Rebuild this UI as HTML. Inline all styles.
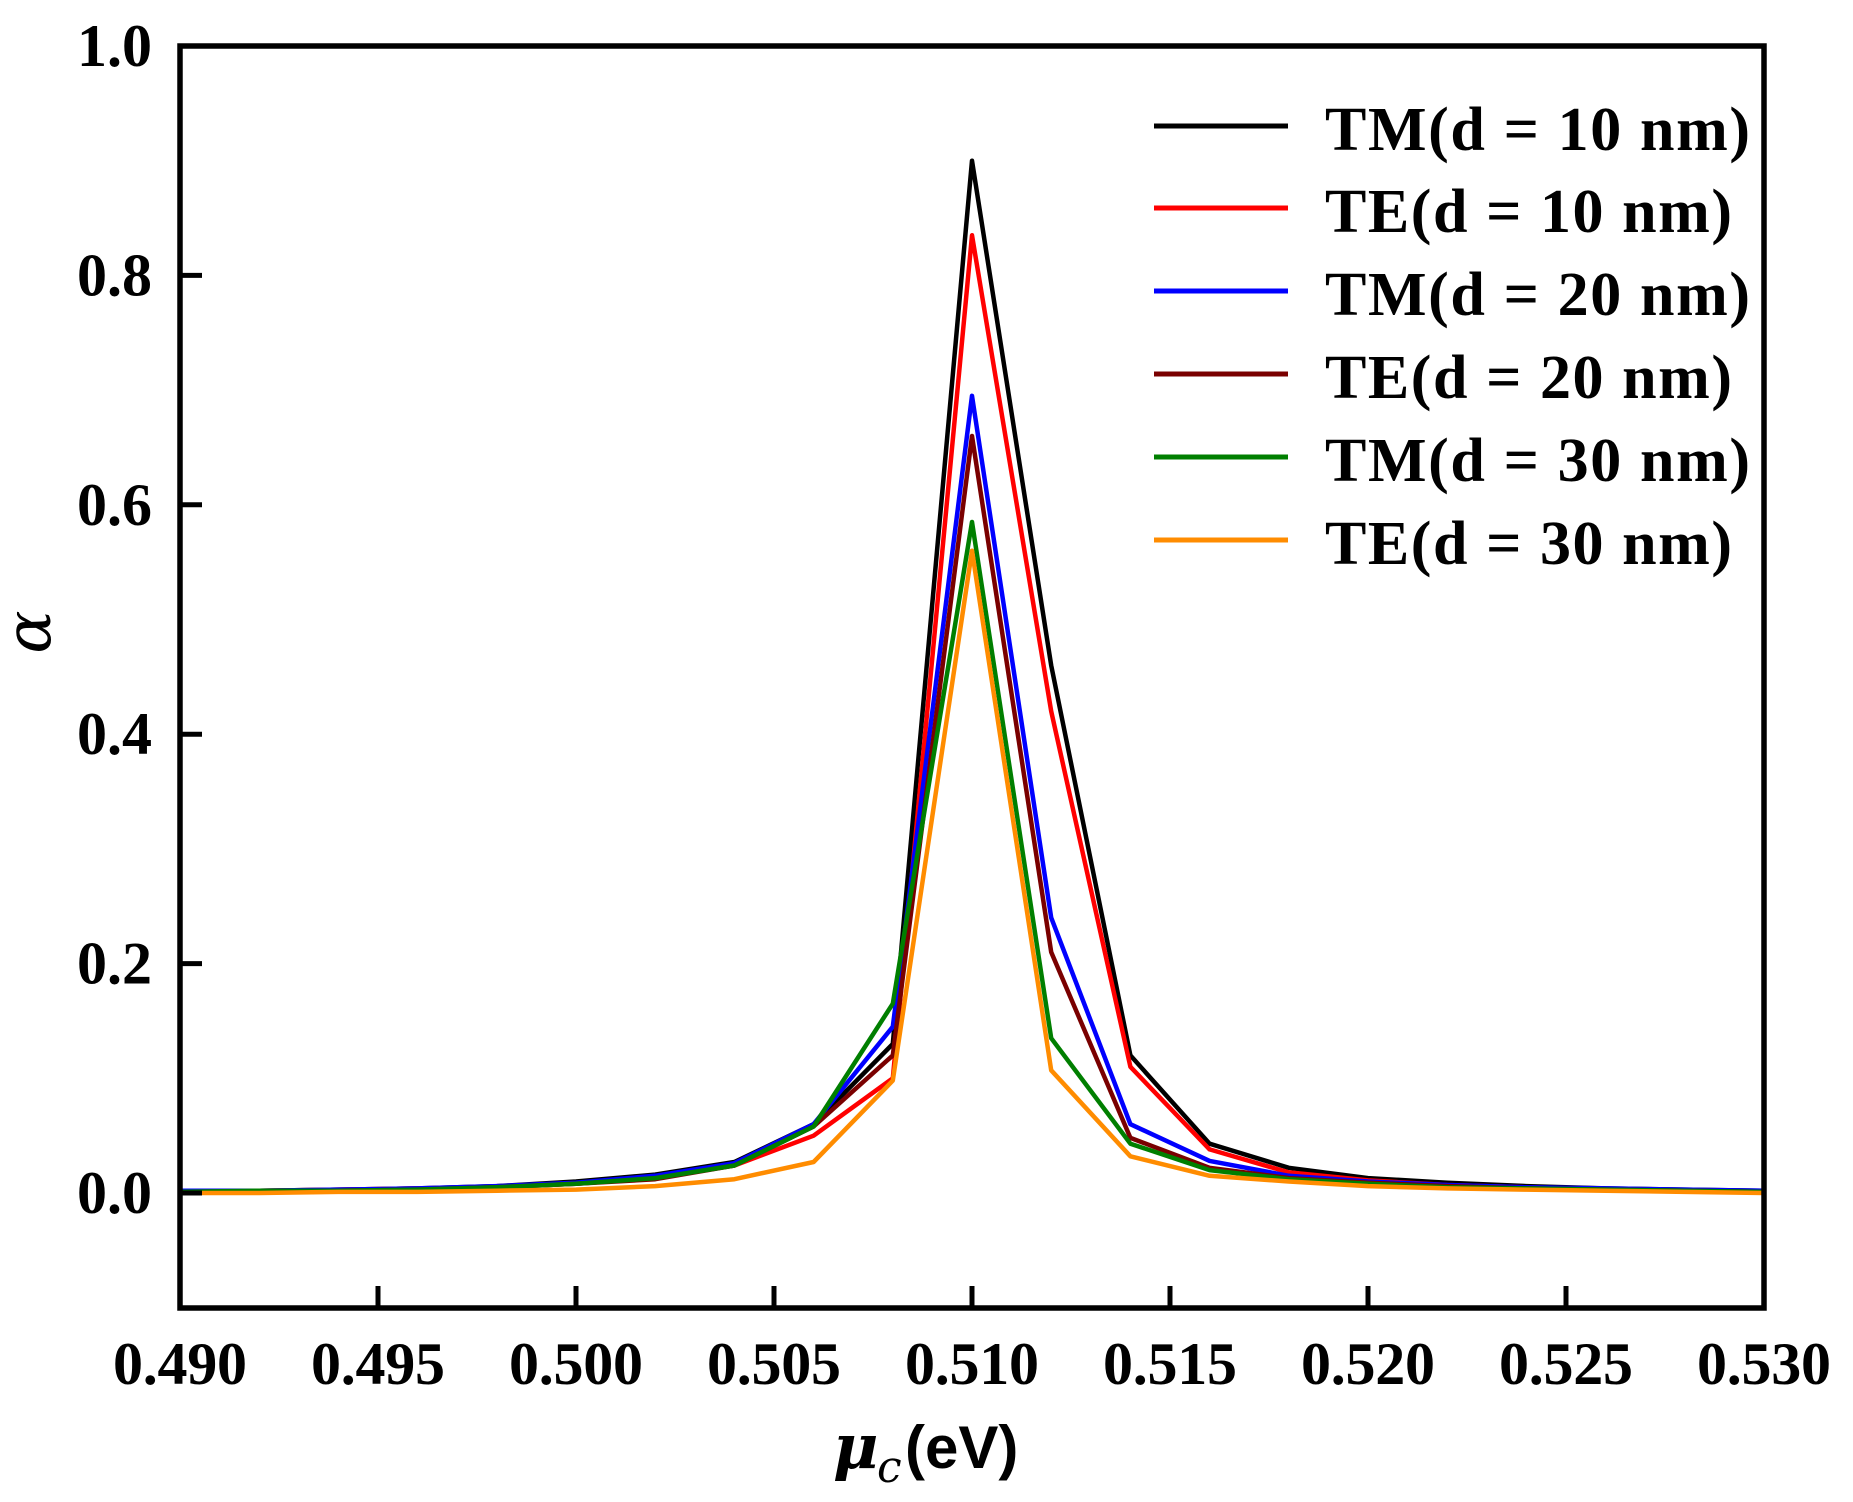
<!DOCTYPE html>
<html><head><meta charset="utf-8"><style>
html,body{margin:0;padding:0;background:#fff;}
svg{display:block;}
</style></head><body>
<svg id="s" width="1853" height="1502" xmlns="http://www.w3.org/2000/svg" font-family="Liberation Serif, serif" font-weight="bold">
<rect width="1853" height="1502" fill="#fff"/>
<g id="curves" fill="none" stroke-width="4.5" stroke-linejoin="round"></g>
<rect x="180" y="46" width="1584" height="1262" fill="none" stroke="#000" stroke-width="5.5"/>
<g id="ticks" stroke="#000" stroke-width="5"></g>
<g id="labels" font-size="60"></g>
<g font-size="62">
<line x1="1154" y1="126" x2="1288" y2="126" stroke="#000" stroke-width="5"/>
<text x="1325" y="150" textLength="425">TM(d = 10 nm)</text>
<line x1="1154" y1="208" x2="1288" y2="208" stroke="#ff0000" stroke-width="5"/>
<text x="1325" y="232" textLength="407">TE(d = 10 nm)</text>
<line x1="1154" y1="291" x2="1288" y2="291" stroke="#0000ff" stroke-width="5"/>
<text x="1325" y="315" textLength="425">TM(d = 20 nm)</text>
<line x1="1154" y1="374" x2="1288" y2="374" stroke="#7a0000" stroke-width="5"/>
<text x="1325" y="398" textLength="407">TE(d = 20 nm)</text>
<line x1="1154" y1="457" x2="1288" y2="457" stroke="#007f00" stroke-width="5"/>
<text x="1325" y="481" textLength="425">TM(d = 30 nm)</text>
<line x1="1154" y1="540" x2="1288" y2="540" stroke="#ff8c00" stroke-width="5"/>
<text x="1325" y="564" textLength="407">TE(d = 30 nm)</text>
</g>
<text transform="translate(50,632) rotate(-90)" font-size="64" font-style="italic" font-weight="normal" text-anchor="middle" font-family="DejaVu Serif, serif">α</text>
<text x="833" y="1468" font-size="62" font-style="italic" font-family="DejaVu Serif, serif">μ</text>
<text x="877" y="1482" font-size="44" font-style="italic" font-weight="normal" font-family="DejaVu Serif, serif">c</text>
<text x="905" y="1468" font-size="60" font-family="Liberation Sans, sans-serif">(eV)</text>
</svg>
<script>
var X=function(v){return 180+(v-0.49)/0.04*1584;};
var Y=function(v){return 1193-v*1147;};
var ns="http://www.w3.org/2000/svg";
var tk=document.getElementById('ticks'),lb=document.getElementById('labels');
for(var i=0;i<=8;i++){var v=0.49+i*0.005,x=X(v);
 var l=document.createElementNS(ns,'line');l.setAttribute('x1',x);l.setAttribute('x2',x);l.setAttribute('y1',1308);l.setAttribute('y2',1286);tk.appendChild(l);
 var t=document.createElementNS(ns,'text');t.setAttribute('x',x);t.setAttribute('y',1384);t.setAttribute('text-anchor','middle');t.setAttribute('textLength','134');t.textContent=v.toFixed(3);lb.appendChild(t);}
for(var i=0;i<=5;i++){var v=i*0.2,y=Y(v);
 var l=document.createElementNS(ns,'line');l.setAttribute('x1',180);l.setAttribute('x2',202);l.setAttribute('y1',y);l.setAttribute('y2',y);tk.appendChild(l);
 var t=document.createElementNS(ns,'text');t.setAttribute('x',152);t.setAttribute('y',y+20);t.setAttribute('text-anchor','end');t.textContent=v.toFixed(1);lb.appendChild(t);}
var xs=[];for(var i=0;i<=20;i++)xs.push(0.49+i*0.002);
var D=[
["#000",[0.002,0.002,0.003,0.004,0.006,0.01,0.016,0.027,0.06,0.13,0.90,0.46,0.12,0.043,0.022,0.013,0.009,0.006,0.004,0.003,0.002]],
["#ff0000",[0.001,0.002,0.003,0.004,0.005,0.008,0.013,0.024,0.05,0.10,0.835,0.42,0.11,0.038,0.018,0.011,0.007,0.005,0.003,0.002,0.002]],
["#0000ff",[0.002,0.002,0.003,0.004,0.006,0.009,0.015,0.026,0.06,0.145,0.695,0.24,0.06,0.028,0.015,0.01,0.007,0.005,0.004,0.003,0.002]],
["#7a0000",[0.0,0.001,0.002,0.003,0.005,0.008,0.012,0.024,0.058,0.12,0.66,0.21,0.048,0.022,0.013,0.009,0.006,0.004,0.003,0.002,0.001]],
["#007f00",[0.001,0.002,0.002,0.003,0.005,0.008,0.013,0.024,0.058,0.165,0.585,0.135,0.043,0.02,0.012,0.008,0.005,0.004,0.003,0.002,0.001]],
["#ff8c00",[0.0,0.0,0.001,0.001,0.002,0.003,0.006,0.012,0.027,0.098,0.56,0.107,0.032,0.015,0.01,0.006,0.004,0.003,0.002,0.001,0.0]]];
var g=document.getElementById('curves');
D.forEach(function(d){var p=document.createElementNS(ns,'polyline');
 p.setAttribute('points',xs.map(function(x,i){return X(x).toFixed(1)+','+Y(d[1][i]).toFixed(1);}).join(' '));
 p.setAttribute('stroke',d[0]);g.appendChild(p);});
</script>
</body></html>
